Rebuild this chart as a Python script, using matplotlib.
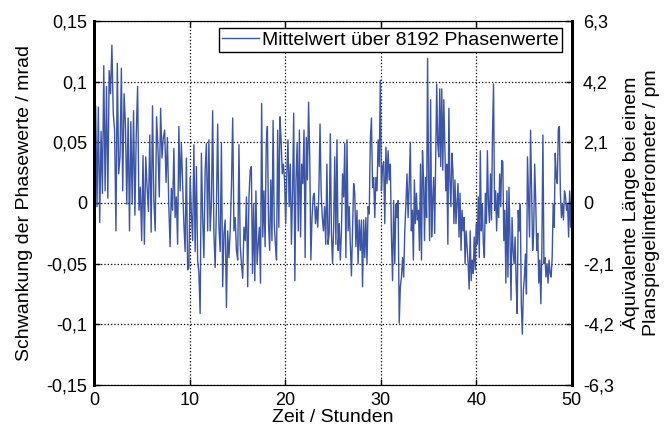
import numpy as np
import matplotlib
matplotlib.use("Agg")
import matplotlib.pyplot as plt

plt.rcParams['font.family'] = ['Liberation Sans', 'DejaVu Sans']

# phase fluctuation in mrad (6 time windows)
seg_edges_h = [0.0, 7.94, 16.33, 24.72, 33.10, 41.49, 50.0]

seg1 = [0.052, 0.080, -0.003, 0.079, -0.016, 0.059, 0.008, 0.113, 0.010, 0.096,
        0.004, 0.109, 0.090, 0.130, 0.074, 0.060, -0.023, 0.115, 0.024, 0.038,
        0.111, 0.010, 0.090, 0.065, -0.001, 0.070, -0.023, 0.067, -0.001, 0.076,
        -0.010, 0.057, 0.096, -0.006, 0.013, -0.031, 0.039, -0.034, 0.038, 0.013,
        -0.007, 0.056, -0.024, 0.080, 0.002, -0.023, 0.071, 0.046, 0.005, 0.078,
        0.037, 0.054, 0.060, 0.017, 0.054, -0.001, -0.036]
seg2 = [0.012, -0.006, 0.045, -0.012, 0.005, -0.034, 0.063, 0.010, 0.049, 0.016,
        -0.017, -0.040, 0.037, -0.055, -0.053, 0.021, -0.009, -0.031, 0.048, -0.040,
        0.030, -0.047, -0.058, -0.091, 0.041, -0.012, -0.045, 0.027, 0.049, -0.023,
        0.052, -0.023, -0.001, 0.076, -0.025, -0.053, -0.003, 0.065, -0.020, -0.040,
        0.049, -0.069, -0.025, -0.014, -0.086, -0.023, -0.045, -0.023, 0.013, 0.070,
        -0.023, -0.012, -0.039, -0.047, 0.048, -0.035, -0.050, -0.062, -0.020, -0.031,
        0.005, -0.069, 0.005, 0.027]
seg3 = [0.030, -0.058, -0.001, -0.064, 0.010, -0.050, -0.034, -0.020, -0.066, 0.082,
        -0.028, 0.010, -0.036, 0.049, 0.063, -0.017, -0.039, 0.019, -0.031, 0.068,
        -0.017, -0.034, -0.047, 0.060, -0.020, 0.071, 0.052, 0.024, 0.032, 0.019,
        -0.017, 0.024, 0.052, -0.003, 0.032, -0.034, 0.008, 0.074, -0.064, 0.019,
        0.049, -0.023, 0.060, -0.028, 0.032, 0.016, 0.060, -0.045, 0.054, 0.019,
        0.083, 0.038, -0.047, -0.012, 0.005, 0.008, -0.017, -0.003, -0.020, 0.010,
        0.065, 0.008, -0.012, -0.023, -0.003, -0.034, 0.032, -0.034, -0.025, 0.057]
seg4 = [-0.025, -0.050, -0.020, 0.038, -0.034, 0.052, -0.039, -0.017, -0.047, -0.023,
        0.024, 0.005, 0.049, -0.045, 0.052, -0.023, -0.003, -0.034, -0.060, -0.023,
        0.016, 0.008, -0.036, -0.006, -0.050, -0.014, -0.039, -0.014, -0.069, -0.014,
        -0.045, -0.012, -0.050, -0.003, -0.009, 0.052, 0.070, 0.013, 0.021, -0.012,
        0.021, 0.010, 0.052, 0.030, 0.101, 0.010, 0.030, 0.034, -0.017, 0.046,
        0.016, 0.043, 0.019, 0.032, -0.028, -0.064, 0.002, -0.050, -0.001, -0.012,
        0.002, -0.099, -0.069, -0.061, -0.045, -0.061, -0.023, -0.001, 0.024, -0.012,
        0.016, 0.050]
seg5 = [-0.023, -0.006, -0.047, 0.019, -0.017, 0.008, -0.014, -0.006, -0.039, 0.032,
        -0.047, 0.043, 0.019, -0.031, 0.021, -0.012, 0.119, 0.019, -0.031, 0.085,
        -0.028, 0.002, 0.021, -0.025, 0.038, 0.098, 0.049, 0.038, 0.094, 0.030,
        0.094, 0.027, 0.085, 0.046, 0.010, 0.032, -0.034, 0.078, 0.019, -0.003,
        0.041, 0.027, -0.017, 0.019, -0.017, -0.001, 0.016, -0.028, 0.008, -0.039,
        -0.006, -0.023, -0.012, -0.050, -0.023, -0.036, -0.050, -0.071, -0.023, -0.064,
        -0.047, -0.058, -0.028, -0.055, -0.017, -0.034, 0.005, -0.045, 0.043, -0.023,
        -0.001, -0.034, -0.045, 0.008, -0.017, 0.043, -0.001, -0.016, 0.024]
seg6 = [-0.014, 0.057, 0.098, -0.006, 0.010, -0.023, 0.008, -0.012, 0.024, -0.003,
        0.035, 0.034, -0.031, -0.006, -0.066, 0.010, -0.061, 0.013, -0.028, -0.080,
        -0.012, -0.039, -0.050, -0.028, -0.066, -0.091, -0.006, -0.023, -0.001, -0.083,
        -0.108, -0.072, -0.061, -0.042, -0.075, 0.038, 0.005, -0.028, 0.060, 0.010,
        -0.039, -0.025, 0.032, 0.002, -0.039, -0.025, -0.066, -0.047, -0.083, -0.039,
        0.056, -0.050, -0.045, -0.061, -0.050, -0.066, -0.047, -0.058, -0.061, -0.045,
        -0.001, -0.020, 0.041, 0.021, 0.016, 0.061, 0.063, 0.008, -0.012, -0.001,
        -0.014, 0.010, 0.005, -0.006, -0.001, -0.028, 0.010, -0.020, 0.010]

segments = [seg1, seg2, seg3, seg4, seg5, seg6]

left_ticks = [-0.15, -0.1, -0.05, 0, 0.05, 0.1, 0.15]
left_labels = ['-0,15', '-0,1', '-0,05', '0', '0,05', '0,1', '0,15']
right_ticks = [-6.3, -4.2, -2.1, 0, 2.1, 4.2, 6.3]
right_labels = ['-6,3', '-4,2', '-2,1', '0', '2,1', '4,2', '6,3']
x_ticks = [0, 10, 20, 30, 40, 50]

# build time axis: evenly spaced samples inside each window
t_parts = []
for i, seg in enumerate(segments):
    t0, t1 = seg_edges_h[i], seg_edges_h[i + 1]
    if i == 0:
        t_parts.append(np.linspace(t0, t1, len(seg)))
    else:
        t_parts.append(np.linspace(t0, t1, len(seg) + 1)[1:])
hours = np.concatenate(t_parts)
phase = np.concatenate([np.array(s) for s in segments])

fig = plt.figure(figsize=(6.64, 4.26), dpi=100)
ax = fig.add_axes([0.142, 0.096, 0.719, 0.855])

ax.plot(hours, phase, color='#3b55a8', lw=1.0,
        label='Mittelwert über 8192 Phasenwerte')

ax.set_xlim(0, 50)
ax.set_ylim(-0.15, 0.15)
ax.set_xticks(x_ticks)
ax.set_xticklabels([str(v) for v in x_ticks])
ax.set_yticks(left_ticks)
ax.set_yticklabels(left_labels)
ax.grid(True, color='black', linestyle=':', linewidth=0.9)
ax.tick_params(axis='both', direction='in', length=4, width=1, labelsize=13)
ax.tick_params(axis='x', top=True, pad=5)
ax.tick_params(axis='y', pad=5)

for side in ['left', 'right']:
    ax.spines[side].set_linewidth(2)
for side in ['top', 'bottom']:
    ax.spines[side].set_linewidth(0.8)

ax.set_xlabel('Zeit / Stunden', fontsize=14)
ax.xaxis.set_label_coords(0.5, -0.066)
ax.set_ylabel('Schwankung der Phasewerte / mrad', fontsize=14)
ax.yaxis.set_label_coords(-0.128, 0.5)

leg = ax.legend(loc='upper right', bbox_to_anchor=(0.98, 0.98), borderaxespad=0,
                fontsize=14, fancybox=False, framealpha=1, edgecolor='black',
                handlelength=1.9, handletextpad=0.2, borderpad=0.15)
leg.get_frame().set_linewidth(1.0)

ax2 = ax.twinx()
ax2.set_ylim(-6.3, 6.3)
ax2.set_yticks(right_ticks)
ax2.set_yticklabels(right_labels)
ax2.tick_params(axis='y', direction='in', length=4, width=1, labelsize=13, pad=8)
for side in ['left', 'right']:
    ax2.spines[side].set_linewidth(2)
for side in ['top', 'bottom']:
    ax2.spines[side].set_linewidth(0.8)
ax2.set_ylabel('Äquivalente Länge bei einem\nPlanspiegelinterferometer / pm',
               fontsize=14, multialignment='center')
ax2.yaxis.set_label_coords(1.104, 0.5)

fig.savefig('out.png', dpi=100)
